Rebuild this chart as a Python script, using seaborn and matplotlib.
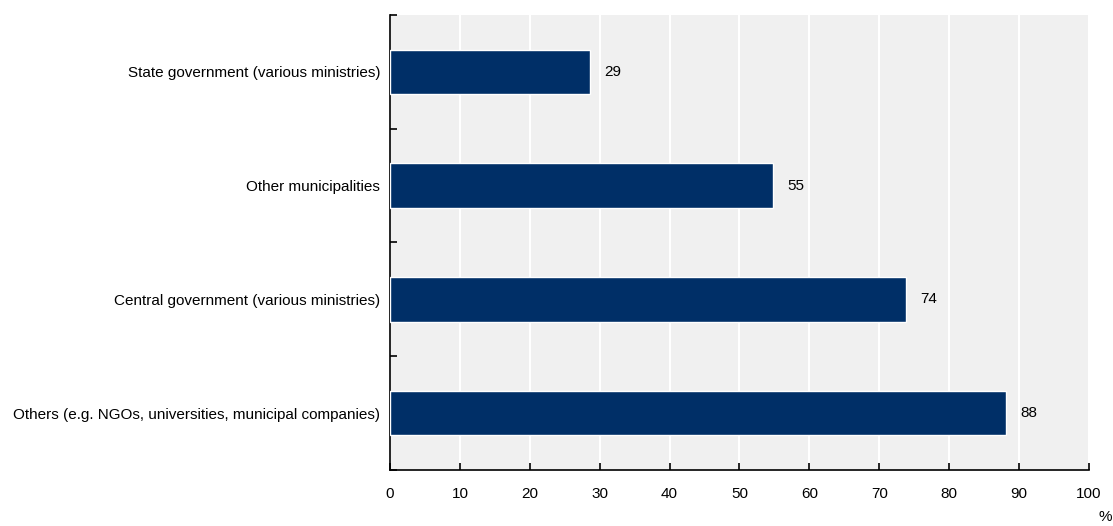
import matplotlib
matplotlib.use("Agg")
import matplotlib.pyplot as plt
import seaborn as sns
import pandas as pd
from matplotlib.ticker import FixedLocator

categories = [
    "State government (various ministries)",
    "Other municipalities",
    "Central government (various ministries)",
    "Others (e.g. NGOs, universities, municipal companies)",
]
values = [28.6, 54.8, 73.8, 88.1]
x_ticks = [0, 10, 20, 30, 40, 50, 60, 70, 80, 90, 100]

df = pd.DataFrame({"category": categories, "value": values})

sns.set_theme(style="white")
plt.rcParams["font.family"] = ["Liberation Sans Narrow", "Liberation Sans", "DejaVu Sans"]

fig = plt.figure(figsize=(11.13, 5.26), dpi=100)
ax = fig.add_axes([0.3504, 0.1065, 0.6280, 0.8650])
ax.set_facecolor("#f0f0f0")

sns.barplot(data=df, x="value", y="category", orient="h", color="#002f67",
            width=0.39, saturation=1, ax=ax, zorder=3)

ax.set_xlim(0, 100)
ax.set_ylim(len(categories) - 0.5, -0.5)
ax.set_xticks(x_ticks)
ax.set_xticklabels([str(t) for t in x_ticks], fontsize=11, color="#000000")
ax.set_yticks(range(len(categories)))
ax.set_yticklabels(categories, fontsize=11, color="#000000")
ax.tick_params(axis="y", which="major", left=True, length=0, pad=7)
ax.yaxis.set_minor_locator(FixedLocator([i - 0.5 for i in range(len(categories) + 1)]))
ax.tick_params(axis="y", which="minor", left=True, direction="in", length=5,
               width=1.2, color="black")
ax.tick_params(axis="x", which="major", bottom=True, direction="in", length=5,
               width=1.2, color="black", pad=12)

ax.grid(axis="x", color="white", linewidth=1.5, zorder=1)
ax.set_axisbelow(True)

for side in ["top", "right"]:
    ax.spines[side].set_visible(False)
for side in ["left", "bottom"]:
    ax.spines[side].set_color("black")
    ax.spines[side].set_linewidth(1.2)

ax.set_xlabel("")
ax.set_ylabel("")

for i, v in enumerate(values):
    ax.text(v + 2.1, i, f"{v:.0f}", va="center", ha="left", fontsize=11, color="#000000")

fig.text(0.993, 0.004, "%", ha="center", va="bottom", fontsize=11, color="#000000")

fig.savefig("out.png", dpi=100)
